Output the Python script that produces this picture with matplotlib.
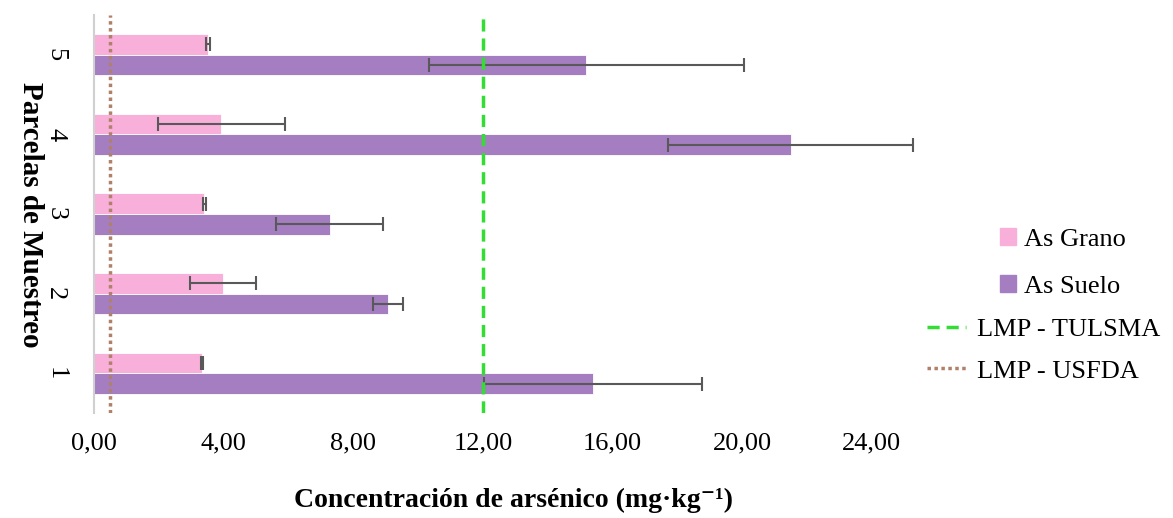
import matplotlib.pyplot as plt
import numpy as np
from matplotlib.lines import Line2D
from matplotlib.patches import Patch

plt.rcParams['font.family'] = ['Liberation Serif', 'DejaVu Serif']

parcelas = ['1', '2', '3', '4', '5']
as_grano = [3.33, 3.98, 3.40, 3.92, 3.52]
err_grano = [0.02, 1.03, 0.05, 1.96, 0.05]
as_suelo = [15.4, 9.07, 7.28, 21.5, 15.2]
err_suelo = [3.35, 0.46, 1.65, 3.77, 4.87]
lmp_tulsma = 12.0
lmp_usfda = 0.5
xticks = [0, 4, 8, 12, 16, 20, 24]

W, H = 1173, 518
fig = plt.figure(figsize=(W / 100, H / 100), dpi=100)
ax = fig.add_axes([94 / W, 1 - 413 / H, 26 * 32.4 / W, (413 - 15) / H])

y = np.arange(1, len(parcelas) + 1)
h = 0.26
col_g = '#F8B0DB'
col_s = '#A57EC1'
ecol = '#595959'
ax.barh(y + h / 2, as_grano, height=h, color=col_g, edgecolor='white', linewidth=0.6,
        xerr=err_grano, error_kw=dict(ecolor=ecol, elinewidth=1.5, capsize=5, capthick=1.5))
ax.barh(y - h / 2, as_suelo, height=h, color=col_s, edgecolor='white', linewidth=0.6,
        xerr=err_suelo, error_kw=dict(ecolor=ecol, elinewidth=1.5, capsize=5, capthick=1.5))

ax.axvline(lmp_tulsma, color='#33DD33', ls=(0, (3.5, 2)), lw=2.5, zorder=4)
ax.axvline(lmp_usfda, color='#B08068', ls=(0, (1, 1)), lw=2.5, zorder=4)

ax.set_xlim(0, 26)
ax.set_ylim(0.5, 5.5)
ax.set_xticks(xticks)
ax.set_xticklabels([('%.2f' % v).replace('.', ',') for v in xticks], fontsize=19)
ax.set_yticks(y)
ax.set_yticklabels(parcelas, rotation=-90, fontsize=19, va='center')
ax.tick_params(axis='both', length=0)
ax.tick_params(axis='x', pad=14)
ax.tick_params(axis='y', pad=20)
for s in ['top', 'right', 'bottom']:
    ax.spines[s].set_visible(False)
ax.spines['left'].set_color('#D0D0D0')
ax.spines['left'].set_linewidth(1.5)

fig.text(513 / W, 1 - 500 / H, 'Concentración de arsénico (mg·kg⁻¹)',
         ha='center', va='center', fontsize=20, fontweight='bold')
fig.text(30 / W, 1 - 215 / H, 'Parcelas de Muestreo', rotation=-90,
         ha='center', va='center', fontsize=21, fontweight='bold')

h_bars = [Patch(color=col_g, label='As Grano'), Patch(color=col_s, label='As Suelo')]
fig.legend(handles=h_bars, loc='center left', bbox_to_anchor=(976 / W, 1 - 263 / H),
           frameon=False, fontsize=19, handlelength=0.6, handleheight=0.6,
           handletextpad=0.3, labelspacing=0.9)
h_lines = [Line2D([], [], color='#33DD33', ls=(0, (3.5, 2)), lw=2.5, label='LMP - TULSMA'),
           Line2D([], [], color='#B08068', ls=(0, (1, 1)), lw=2.5, label='LMP - USFDA')]
fig.legend(handles=h_lines, loc='center left', bbox_to_anchor=(903 / W, 1 - 350 / H),
           frameon=False, fontsize=19, handlelength=1.5, handletextpad=0.4, labelspacing=0.7)

fig.savefig('out.png', dpi=100)
